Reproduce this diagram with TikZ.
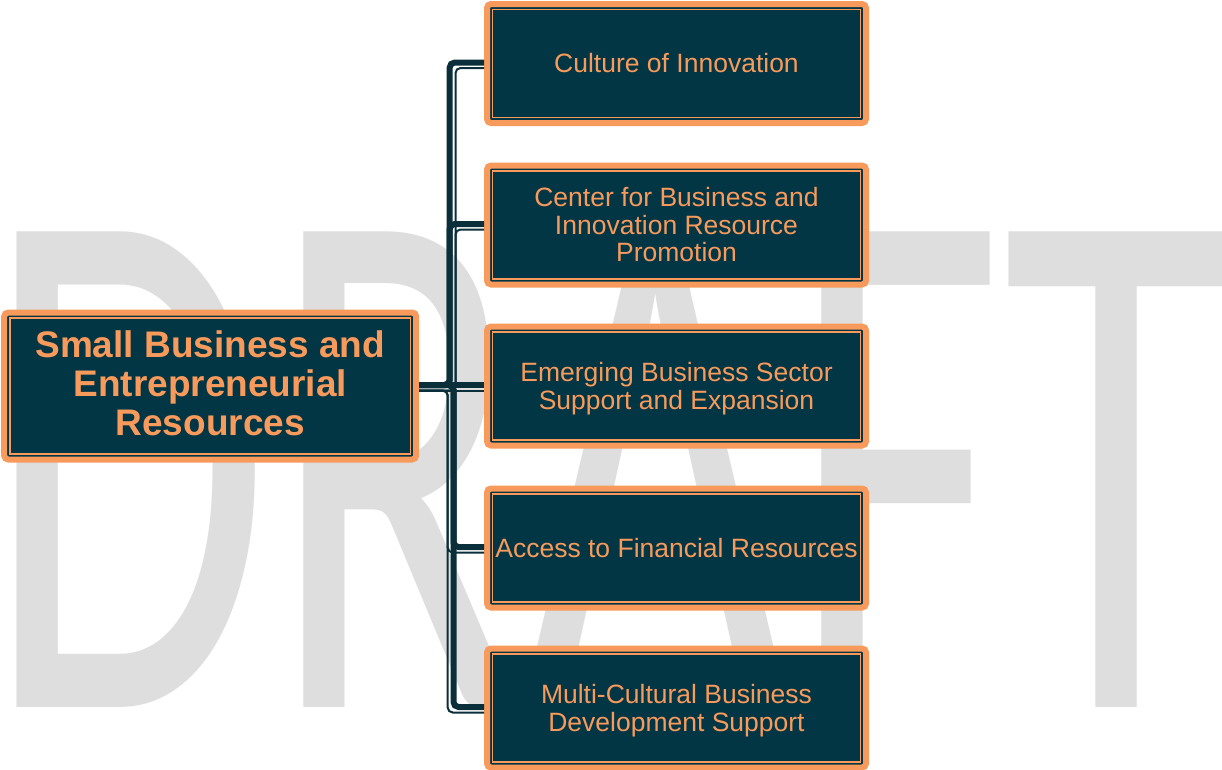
\documentclass[tikz,border=0pt]{standalone}
\usepackage{fontspec}
\setmainfont{Liberation Sans}
\newfontfamily\wmfont{Carlito}
\usetikzlibrary{calc}
\definecolor{boxfill}{HTML}{033645}
\definecolor{boxorange}{HTML}{F79A5B}
\definecolor{linedark}{HTML}{0A2E3A}
\definecolor{wmgray}{HTML}{DEDEDE}
\begin{document}
\begin{tikzpicture}[x=1pt,y=-1pt,
  boxbase/.style={draw=boxorange, fill=boxfill, line width=6pt, rounded corners=4pt,
    text=boxorange, align=center, inner sep=0pt,
    path picture={\draw[boxorange, line width=1.5pt, sharp corners]
      ([shift={(5.7pt,5.7pt)}]path picture bounding box.south west) rectangle
      ([shift={(-5.7pt,-5.7pt)}]path picture bounding box.north east);}},
  rootbox/.style={boxbase, minimum width=412pt, minimum height=147pt,
    font=\bfseries\fontsize{37}{39}\selectfont},
  childbox/.style={boxbase, minimum width=379pt, minimum height=119pt,
    font=\fontsize{26.5}{27.5}\selectfont},
  thickc/.style={draw=linedark, line width=6pt, rounded corners=5pt},
  thinc/.style={draw=linedark, line width=2pt, rounded corners=5pt}]
\useasboundingbox (0,0) rectangle (1222,769);
% watermark
\node[anchor=south west, inner sep=0pt, text=wmgray] (wm) at (-15,708)
  {\resizebox{1240pt}{475pt}{\wmfont DRAFT}};
% boxes
\node[rootbox] (root) at (210.2,386) {Small Business and\\Entrepreneurial\\Resources\rule[-5pt]{0pt}{0pt}};
\node[childbox] (c1) at (676.5,63.5) {Culture of Innovation};
\node[childbox] (c2) at (676.5,225) {Center for Business and\\Innovation Resource\\Promotion};
\node[childbox] (c3) at (676.5,386) {\rule{0pt}{24pt}Emerging Business Sector\\Support and Expansion};
\node[childbox] (c4) at (676.5,548) {Access to Financial Resources};
\node[childbox] (c5) at (676.5,708) {\rule{0pt}{24.5pt}Multi-Cultural Business\\Development Support};
% connectors
\coordinate (tU) at (449.7,0);
\coordinate (nU) at (455.5,0);
\coordinate (tD) at (453.5,0);
\coordinate (nD) at (447.7,0);
\path ($(root.east)+(0,-1)$) coordinate (ra) ($(root.east)+(0,4.5)$) coordinate (rb);
\foreach \c in {c1,c2}{
  \path ($(\c.west)+(0,-1)$) coordinate (ca) ($(\c.west)+(0,4.5)$) coordinate (cb);
  \draw[thickc] (ra) -- (ra -| tU) -- (tU |- ca) -- (ca);
  \draw[thinc] (rb) -- (rb -| nU) -- (nU |- cb) -- (cb);
}
\foreach \c in {c4,c5}{
  \path ($(\c.west)+(0,-1)$) coordinate (ca) ($(\c.west)+(0,4.5)$) coordinate (cb);
  \draw[thickc] (ra) -- (ra -| tD) -- (tD |- ca) -- (ca);
  \draw[thinc] (rb) -- (rb -| nD) -- (nD |- cb) -- (cb);
}
\draw[thickc] (ra) -- ($(c3.west)+(0,-1)$);
\draw[thinc] (rb) -- ($(c3.west)+(0,4.5)$);
\end{tikzpicture}
\end{document}
